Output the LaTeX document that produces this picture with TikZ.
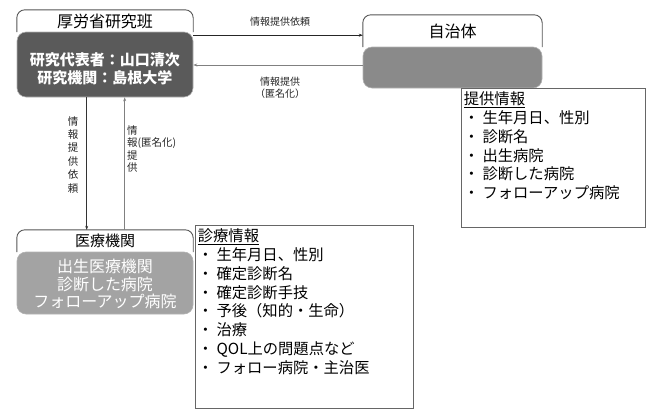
\documentclass[tikz,border=0pt]{standalone}
\usepackage{fontspec}
\setmainfont{Noto Sans CJK JP}
\usetikzlibrary{arrows.meta,calc}
\definecolor{darkbox}{HTML}{5A5A5A}
\definecolor{midbox}{HTML}{8A8A8A}
\definecolor{lightbox}{HTML}{A3A3A3}
\definecolor{lineg}{HTML}{555555}
\tikzset{
  fillbox/.style={rounded corners=9pt, draw=gray!60, line width=0.6pt, inner sep=0pt},
  tabhead/.style={draw=none, inner sep=0pt},
  tabline/.style={draw=lineg, line width=0.9pt, rounded corners=8pt},
  listbox/.style={draw=gray!80!black, line width=0.7pt, inner sep=0pt},
  listtext/.style={align=left, anchor=north west, inner sep=0pt, font=\fontsize{15.3}{18.8}\selectfont},
  arrowlbl/.style={inner sep=0pt, font=\fontsize{10}{12}\selectfont, text=black!85},
  arr/.style={-{Stealth[length=4pt,width=3pt]}},
}
\begin{document}
\begin{tikzpicture}[x=1pt,y=-1pt]
\useasboundingbox (0,0) rectangle (649,413);
% research group
\node[tabhead, minimum width=176, minimum height=22] (restab) at (105,21) {\fontsize{16}{18}\selectfont 厚労省研究班};
\draw[tabline] (restab.south west) -- (restab.north west) -- (restab.north east) -- (restab.south east);
\node[fillbox, fill=darkbox, minimum width=176, minimum height=65] (res) at (105,64.5) {};
\node[text=white, align=center, font=\bfseries\fontsize{15}{18}\selectfont, inner sep=0pt] (rest) at (105,69) {研究代表者：山口清次\\研究機関：島根大学};
% municipality
\node[tabhead, minimum width=179, minimum height=32] (muntab) at (452.5,31) {\fontsize{16}{18}\selectfont 自治体};
\draw[tabline] (muntab.south west) -- (muntab.north west) -- (muntab.north east) -- (muntab.south east);
\node[fillbox, fill=midbox, minimum width=179, minimum height=41] (mun) at (452.5,67.5) {};
% medical institutions
\node[tabhead, minimum width=176, minimum height=22] (medtab) at (105,241) {\fontsize{15}{18}\selectfont 医療機関};
\draw[tabline] (medtab.south west) -- (medtab.north west) -- (medtab.north east) -- (medtab.south east);
\node[fillbox, fill=lightbox, minimum width=176, minimum height=62] (med) at (105,283) {};
\node[text=white, align=center, font=\fontsize{16}{17.5}\selectfont, inner sep=0pt] (medt) at (105,284) {出生医療機関\\診断した病院\\フォローアップ病院};
% lists
\node[listbox, minimum width=184, minimum height=139] (provbox) at (553,157.5) {};
\node[listtext] (provt) at ($(provbox.north west)+(3,4)$) {\underline{提供情報}\\
・ 生年月日、性別\\
・ 診断名\\
・ 出生病院\\
・ 診断した病院\\
・ フォローアップ病院};
\node[listbox, minimum width=218, minimum height=183] (medbox) at (304,316.5) {};
\node[listtext] (medlt) at ($(medbox.north west)+(3,4)$) {\underline{診療情報}\\
・ 生年月日、性別\\
・ 確定診断名\\
・ 確定診断手技\\
・ 予後（知的・生命）\\
・ 治療\\
・ QOL上の問題点など\\
・ フォロー病院・主治医};
% horizontal arrows
\draw[arr, line width=0.8pt, black!85] ($(restab.south east)+(0,3)$) -- ($(restab.south east -| muntab.west)+(0,3)$);
\draw[arr, line width=0.8pt, gray] ($(mun.west)+(0,-2.5)$) -- ($(mun.west -| res.east)+(0,-2.5)$);
\node[arrowlbl] (lbl1) at (280,22) {情報提供依頼};
\node[arrowlbl, align=center] (lbl2) at (280,88) {情報提供\\（匿名化）};
% vertical arrows
\coordinate (dA) at ($(res.south west)+(70,0)$);
\coordinate (uA) at ($(res.south west)+(108,0)$);
\draw[arr, line width=1.4pt, black!80] (dA) -- (dA |- medtab.north);
\draw[arr, line width=0.9pt, gray] (uA |- medtab.north) -- (uA);
\node[arrowlbl, align=center, anchor=north, font=\fontsize{10.5}{13.4}\selectfont] (lbl3) at (73,116) {情\\報\\提\\供\\依\\頼};
\node[arrowlbl, align=left, anchor=north west, font=\fontsize{10.5}{12.6}\selectfont] (lbl4) at (127,125) {情\\報(匿名化)\\提\\供};
\end{tikzpicture}
\end{document}
